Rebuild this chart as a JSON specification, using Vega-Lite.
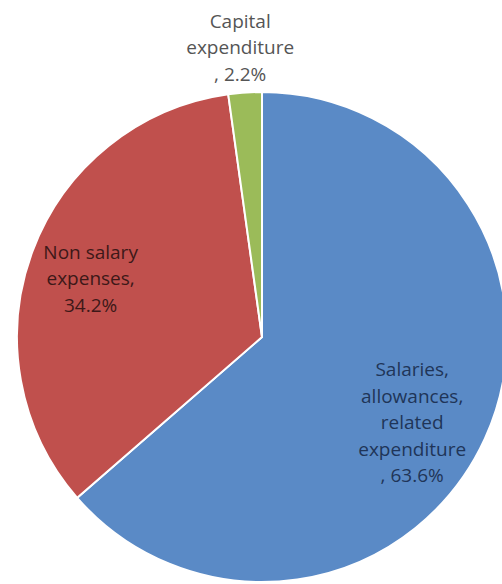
{
  "$schema": "https://vega.github.io/schema/vega-lite/v6.json",
  "width": 480,
  "height": 490,
  "autosize": {"type": "none"},
  "padding": {"left": 22, "top": 92, "right": 0, "bottom": 0},
  "background": "white",
  "view": {"stroke": null},
  "data": {
    "values": [
      {"category": "Salaries, allowances, related expenditure", "value": 63.6, "label": "Salaries,\nallowances,\nrelated\nexpenditure\n, 63.6%"},
      {"category": "Non salary expenses", "value": 34.2, "label": "Non salary\nexpenses,\n34.2%"},
      {"category": "Capital expenditure", "value": 2.2, "label": "Capital\nexpenditure\n, 2.2%"}
    ]
  },
  "encoding": {
    "theta": {"field": "value", "type": "quantitative", "stack": true},
    "order": {"field": "value", "sort": "descending"}
  },
  "layer": [
    {
      "mark": {"type": "arc", "outerRadius": 245, "stroke": "white", "strokeWidth": 2},
      "encoding": {
        "color": {
          "field": "category",
          "type": "nominal",
          "scale": {
            "domain": ["Salaries, allowances, related expenditure", "Non salary expenses", "Capital expenditure"],
            "range": ["#5a8ac6", "#c0504d", "#9bbb59"]
          },
          "legend": null
        }
      }
    },
    {
      "mark": {
        "type": "text",
        "font": "Open Sans",
        "fontSize": 19,
        "lineHeight": 26.5,
        "lineBreak": "\n",
        "align": "center",
        "baseline": "middle",
        "dy": {"expr": "datum.category === 'Capital expenditure' ? 0 : (datum.category === 'Non salary expenses' ? -20 : -35)"}
      },
      "encoding": {
        "text": {"field": "label", "type": "nominal"},
        "radius": {"value": {"expr": "datum.category === 'Capital expenditure' ? 316 : (datum.category === 'Non salary expenses' ? 183 : 165)"}},
        "color": {
          "condition": [
            {"test": "datum.category === 'Capital expenditure'", "value": "#555555"},
            {"test": "datum.category === 'Non salary expenses'", "value": "#3d1818"}
          ],
          "value": "#1f3558"
        }
      }
    }
  ]
}
